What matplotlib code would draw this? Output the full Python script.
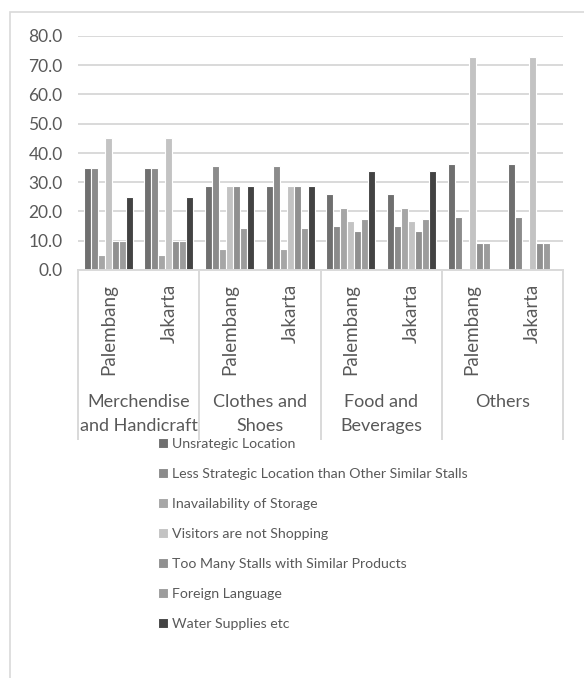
import numpy as np
import matplotlib
matplotlib.use('Agg')
import matplotlib.pyplot as plt
from matplotlib.patches import Rectangle
import matplotlib.transforms as mtransforms

plt.rcParams['font.family'] = ['Lato', 'DejaVu Sans']

# stall types and the two cities surveyed for each
groups = ['Merchendise\nand Handicraft', 'Clothes and\nShoes', 'Food and\nBeverages', 'Others']
cities = ['Palembang', 'Jakarta']

# percentage of respondents naming each problem, one value per (group, city)
unstrategic = [35.0, 35.0, 28.6, 28.6, 26.0, 26.0, 36.4, 36.4]
less_strategic = [35.0, 35.0, 35.7, 35.7, 15.0, 15.0, 18.2, 18.2]
no_storage = [5.0, 5.0, 7.1, 7.1, 21.1, 21.1, 0.0, 0.0]
not_shopping = [45.0, 45.0, 28.6, 28.6, 16.8, 16.8, 72.7, 72.7]
too_many_stalls = [10.0, 10.0, 28.6, 28.6, 13.2, 13.2, 9.1, 9.1]
foreign_language = [10.0, 10.0, 14.3, 14.3, 17.5, 17.5, 9.1, 9.1]
water_supplies = [25.0, 25.0, 28.6, 28.6, 33.9, 33.9, 0.0, 0.0]

series_names = ['Unsrategic Location',
                'Less Strategic Location than Other Similar Stalls',
                'Inavailability of Storage',
                'Visitors are not Shopping',
                'Too Many Stalls with Similar Products',
                'Foreign Language',
                'Water Supplies etc']
series = [unstrategic, less_strategic, no_storage, not_shopping,
          too_many_stalls, foreign_language, water_supplies]
colors = ['#6f6f6f', '#8b8b8b', '#a6a6a6', '#c3c3c3', '#909090', '#9c9c9c', '#434343']

W, H = 584, 678
fig = plt.figure(figsize=(W / 100, H / 100), dpi=100)
ax = fig.add_axes([78 / W, 1 - 270 / H, 485 / W, 234 / H])

text_col = '#595959'
grid_col = '#d9d9d9'

n = len(groups) * len(cities)
x = np.arange(n)
bw = 0.1155
for i, (vals, name) in enumerate(zip(series, series_names)):
    off = (i - 3) * bw
    ax.bar(x + off, vals, width=bw, color=colors[i], edgecolor='white',
           linewidth=0.8, label=name, zorder=3)

ax.set_xlim(-0.5, n - 0.5)
ax.set_ylim(0, 80)
ax.set_yticks(np.arange(0, 81, 10))
ax.set_yticklabels(['%.1f' % v for v in np.arange(0, 81, 10)])
ax.tick_params(axis='y', length=0, pad=11, labelsize=12.5, labelcolor=text_col)
ax.set_xticks([])
ax.grid(axis='y', color=grid_col, linewidth=1.4, zorder=0)
for s in ax.spines.values():
    s.set_visible(False)

# category axis: baseline, group separators and two-level labels
trans = mtransforms.blended_transform_factory(ax.transData, ax.transAxes)
ax.plot([-0.5, n - 0.5], [0, 0], transform=trans, color=grid_col,
        linewidth=1.4, clip_on=False, zorder=4)
for b in np.arange(-0.5, n, 2):
    ax.plot([b, b], [0, -169 / 234], transform=trans, color=grid_col,
            linewidth=1.4, clip_on=False)
for k in range(n):
    ax.text(x[k], -14 / 234, cities[k % 2], transform=trans, rotation=90,
            ha='center', va='top', fontsize=13.5, color=text_col)
for g, label in enumerate(groups):
    ax.text(2 * g + 0.5, -124 / 234, label, transform=trans, ha='center',
            va='top', fontsize=13, color=text_col, linespacing=1.6)

leg = ax.legend(loc='upper left', bbox_to_anchor=(158 / W, 1 - 438 / H),
                bbox_transform=fig.transFigure, frameon=False, fontsize=10.2,
                handlelength=0.7, handleheight=0.7, handletextpad=0.3,
                labelspacing=1.27, borderpad=0, borderaxespad=0)
for t in leg.get_texts():
    t.set_color(text_col)

# outer chart border
fig.patches.append(Rectangle((9.5 / W, -0.1), 1.2, 1.1 - 12 / H,
                             transform=fig.transFigure, fill=False,
                             edgecolor=grid_col, linewidth=1.2))

fig.savefig('out.png', dpi=100)
plt.close(fig)
